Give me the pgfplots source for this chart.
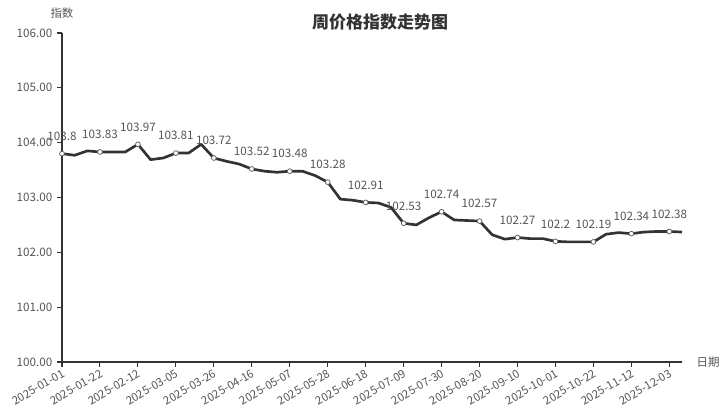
\documentclass[border=0pt]{standalone}
\usepackage{fontspec}
\setmainfont{Noto Sans CJK SC}
\usepackage{pgfplots}
\usepackage{pgfplotstable}
\pgfplotsset{compat=1.18}
\definecolor{linec}{HTML}{333333}
\definecolor{axisc}{HTML}{333333}
\definecolor{labc}{HTML}{555555}
\definecolor{markc}{HTML}{666666}
\pgfplotstableread{
w y
0 103.80
1 103.77
2 103.85
3 103.83
4 103.83
5 103.83
6 103.97
7 103.69
8 103.72
9 103.81
10 103.81
11 103.97
12 103.72
13 103.66
14 103.61
15 103.52
16 103.48
17 103.46
18 103.48
19 103.48
20 103.40
21 103.28
22 102.97
23 102.95
24 102.91
25 102.90
26 102.82
27 102.53
28 102.50
29 102.63
30 102.74
31 102.59
32 102.58
33 102.57
34 102.32
35 102.24
36 102.27
37 102.25
38 102.25
39 102.20
40 102.19
41 102.19
42 102.19
43 102.33
44 102.36
45 102.34
46 102.37
47 102.38
48 102.38
49 102.37
}\datatable
\begin{document}
\begin{tikzpicture}
\begin{axis}[
  name=ax,
  scale only axis,
  width=465pt, height=246.75pt,
  xmin=0, xmax=49, ymin=100, ymax=106,
  axis x line*=bottom, axis y line*=left,
  axis line style={color=axisc, line width=0.8pt},
  tick style={color=axisc, line width=0.8pt},
  tick align=outside,
  major tick length=3.75pt,
  xtick={0,3,...,48},
  xticklabels={2025-01-01,2025-01-22,2025-02-12,2025-03-05,2025-03-26,2025-04-16,2025-05-07,2025-05-28,2025-06-18,2025-07-09,2025-07-30,2025-08-20,2025-09-10,2025-10-01,2025-10-22,2025-11-12,2025-12-03},
  xticklabel style={rotate=30, anchor=north east, font=\fontsize{8.5pt}{10pt}\selectfont, text=labc, inner sep=1pt},
  ytick={100,101,...,106},
  yticklabel style={font=\fontsize{8.75pt}{10pt}\selectfont, text=labc, /pgf/number format/.cd, fixed, fixed zerofill, precision=2, assume math mode=true},
  clip=false,
]
\addplot[color=linec, line width=2pt, line join=round, mark=none] table[x=w, y=y] {\datatable};
\addplot[only marks, mark=*, mark size=1.8pt, mark options={fill=white, draw=markc, line width=0.6pt},
  each nth point=3, filter discard warning=false,
  nodes near coords,
  point meta=y,
  every node near coord/.append style={anchor=center, yshift=13pt, font=\fontsize{8.75pt}{10pt}\selectfont, text=labc,
    /pgf/number format/.cd, fixed, precision=2, assume math mode=true},
] table[x=w, y=y] {\datatable};
\end{axis}
\node[font=\fontsize{12.75pt}{14pt}\selectfont\bfseries, text=linec] at ([xshift=238.5pt, yshift=8.25pt]ax.north west) {周价格指数走势图};
\node[font=\fontsize{8.6pt}{10pt}\selectfont, text=labc] at ([yshift=15pt]ax.north west) {指数};
\node[font=\fontsize{8.6pt}{10pt}\selectfont, text=labc] at ([xshift=19.5pt]ax.south east) {日期};
\pgfresetboundingbox
\path ([xshift=-46.5pt, yshift=-39pt]ax.south west) rectangle ([xshift=34.5pt, yshift=24.75pt]ax.north east);
\end{tikzpicture}
\end{document}
